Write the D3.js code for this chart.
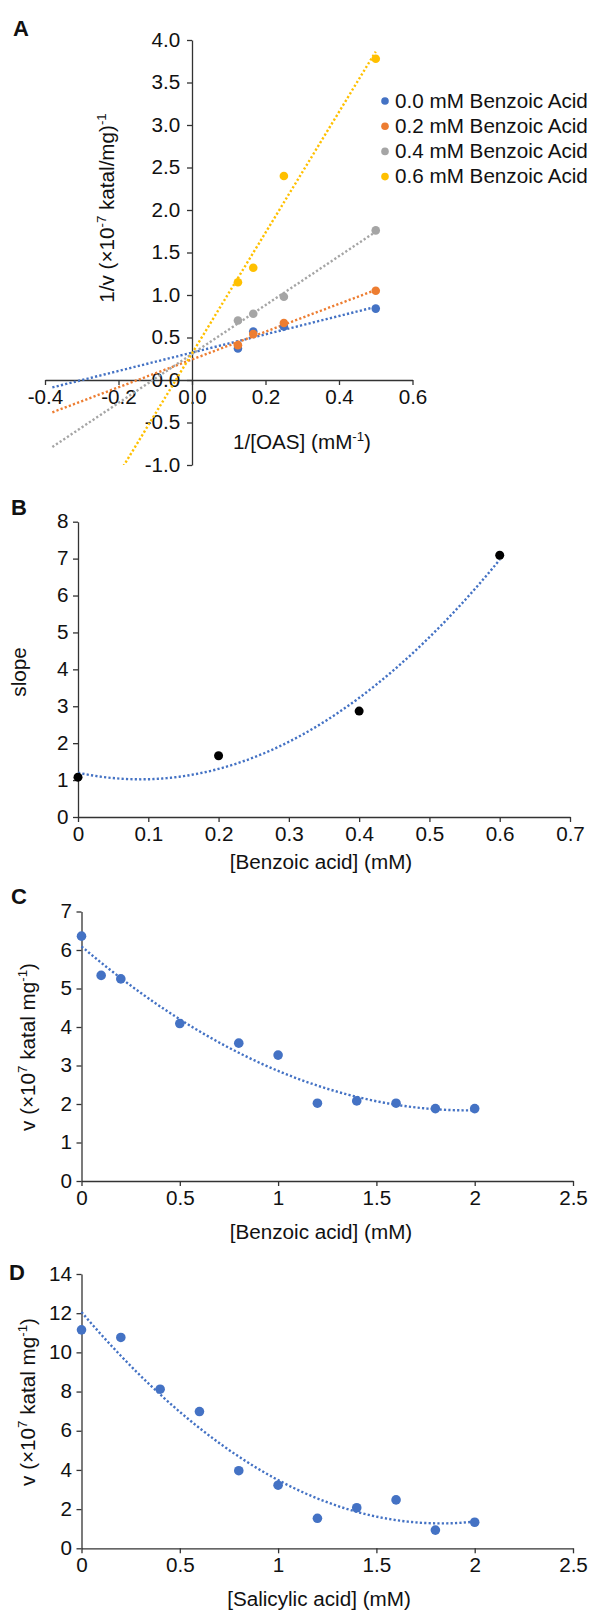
<!DOCTYPE html>
<html>
<head>
<meta charset="utf-8">
<script src="https://cdn.jsdelivr.net/npm/d3@7"></script>
<style>
  body { margin: 0; background: #fff; }
  svg text { font-family: "Liberation Sans", Arial, sans-serif; fill: #111; }
  .tick text { font-size: 19.5px; }
  .axis path, .axis line { stroke: #333; stroke-width: 1.3; }
  .lbl { font-size: 19.5px; }
  .panel { font-size: 22px; font-weight: bold; }
</style>
</head>
<body>
<div id="chart"></div>
<script>
// Panel A - Lineweaver-Burk
const concA = ['0.0', '0.2', '0.4', '0.6'];
const oasInv = [0.125, 0.1667, 0.25, 0.5];
const invV00 = [0.37, 0.57, 0.63, 0.84];
const invV02 = [0.41, 0.54, 0.67, 1.05];
const invV04 = [0.70, 0.78, 0.98, 1.76];
const invV06 = [1.15, 1.32, 2.40, 3.78];
const colorsA = ['#4472C4', '#ED7D31', '#A5A5A5', '#FFC000'];
const xTicksA = [-0.4, -0.2, 0, 0.2, 0.4, 0.6];
const yTicksA = [-1, -0.5, 0, 0.5, 1, 1.5, 2, 2.5, 3, 3.5, 4];

// Panel B - slope replot
const benzoicB = [0, 0.2, 0.4, 0.6];
const slopeB = [1.08, 1.66, 2.87, 7.09];
const xTicksB = [0, 0.1, 0.2, 0.3, 0.4, 0.5, 0.6, 0.7];
const yTicksB = [0, 1, 2, 3, 4, 5, 6, 7, 8];

// Panel C - benzoic acid
const benzoicC = [0, 0.1, 0.2, 0.5, 0.8, 1.0, 1.2, 1.4, 1.6, 1.8, 2.0];
const vC = [6.36, 5.34, 5.25, 4.09, 3.58, 3.27, 2.02, 2.08, 2.02, 1.88, 1.88];
const xTicksC = [0, 0.5, 1, 1.5, 2, 2.5];
const yTicksC = [0, 1, 2, 3, 4, 5, 6, 7];

// Panel D - salicylic acid
const salicylicD = [0, 0.2, 0.4, 0.6, 0.8, 1.0, 1.2, 1.4, 1.6, 1.8, 2.0];
const vD = [11.15, 10.76, 8.12, 6.98, 3.96, 3.22, 1.53, 2.07, 2.47, 0.93, 1.33];
const xTicksD = [0, 0.5, 1, 1.5, 2, 2.5];
const yTicksD = [0, 2, 4, 6, 8, 10, 12, 14];

const blue = '#4472C4';
const stretch = 'scale(1.06,1)';   // source figure text is a bit wider than Arial

let svg = d3.select('#chart').append('svg')
  .attr('width', 593)
  .attr('height', 1610);

svg.append('rect').attr('width', 593).attr('height', 1610).attr('fill', '#fff');

// least squares fits for the trendlines
function linFit(xs, ys) {
  let mx = d3.mean(xs), my = d3.mean(ys);
  let sxy = d3.sum(xs, (x, i) => (x - mx) * (ys[i] - my));
  let sxx = d3.sum(xs, x => (x - mx) * (x - mx));
  let b = sxy / sxx;
  return x => my + b * (x - mx);
}

function quadFit(xs, ys) {
  // normal equations, 3x3
  let s = [0, 0, 0, 0, 0], t = [0, 0, 0];
  xs.forEach((x, i) => {
    for (let k = 0; k < 5; k++) s[k] += Math.pow(x, k);
    for (let k = 0; k < 3; k++) t[k] += ys[i] * Math.pow(x, k);
  });
  let M = [[s[0], s[1], s[2], t[0]], [s[1], s[2], s[3], t[1]], [s[2], s[3], s[4], t[2]]];
  for (let c = 0; c < 3; c++) {
    for (let r = c + 1; r < 3; r++) {
      let f = M[r][c] / M[c][c];
      for (let k = c; k < 4; k++) M[r][k] -= f * M[c][k];
    }
  }
  let a = [0, 0, 0];
  for (let r = 2; r >= 0; r--) {
    let v = M[r][3];
    for (let k = r + 1; k < 3; k++) v -= M[r][k] * a[k];
    a[r] = v / M[r][r];
  }
  return x => a[0] + a[1] * x + a[2] * x * x;
}

function trend(g, f, x, y, x0, x1, color) {
  let pts = d3.range(0, 101).map(i => x0 + (x1 - x0) * i / 100);
  g.append('path')
    .attr('d', d3.line().x(d => x(d)).y(d => y(f(d)))(pts))
    .attr('fill', 'none')
    .attr('stroke', color)
    .attr('stroke-width', 2.4)
    .attr('stroke-dasharray', '2.2,2.2');
}

function axis(axisFn, tx, ty) {
  let g = svg.append('g')
    .attr('class', 'axis')
    .attr('transform', `translate(${tx},${ty})`)
    .call(axisFn);
  g.selectAll('.tick text').attr('transform', stretch);
  return g;
}

// text with superscripts, parts = [[text, sup], ...]
function richText(g, parts, x, y, rotate) {
  let t = g.append('text')
    .attr('class', 'lbl')
    .attr('text-anchor', 'middle')
    .attr('transform', `translate(${x},${y})` + (rotate ? ' rotate(-90)' : '') + ' ' + stretch)
    .attr('dy', '0.35em');
  let up = false;
  parts.forEach(p => {
    let ts = t.append('tspan').text(p[0]);
    if (p[1]) {
      ts.style('font-size', '12.5px').attr('dy', -8);
      up = true;
    } else if (up) {
      ts.attr('dy', 8);
      up = false;
    }
  });
  return t;
}

function panelLabel(txt, x, y) {
  svg.append('text').attr('class', 'panel')
    .attr('transform', `translate(${x},${y})`)
    .text(txt);
}

//----- PANEL A
let xA = d3.scaleLinear().domain([-0.4, 0.6]).range([45, 412.5]);
let yA = d3.scaleLinear().domain([-1, 4]).range([465, 40]);

svg.append('clipPath').attr('id', 'clipA')
  .append('rect')
  .attr('x', xA(-0.4)).attr('y', yA(4))
  .attr('width', xA(0.6) - xA(-0.4)).attr('height', yA(-1) - yA(4));

axis(d3.axisBottom(xA).tickValues(xTicksA).tickSize(5).tickSizeOuter(0).tickPadding(5)
  .tickFormat(d => d.toFixed(1)), 0, yA(0));
axis(d3.axisLeft(yA).tickValues(yTicksA).tickSize(5).tickSizeOuter(0).tickPadding(6)
  .tickFormat(d => d.toFixed(1)), xA(0), 0);

let seriesA = [invV00, invV02, invV04, invV06];
let lineLayer = svg.append('g').attr('clip-path', 'url(#clipA)');
seriesA.forEach((ys, k) => {
  trend(lineLayer, linFit(oasInv, ys), xA, yA, -0.38, 0.5, colorsA[k]);
});
seriesA.forEach((ys, k) => {
  svg.append('g').selectAll('circle')
    .data(ys)
    .enter()
    .append('circle')
    .attr('cx', (d, i) => xA(oasInv[i]))
    .attr('cy', d => yA(d))
    .attr('r', 4.3)
    .attr('fill', colorsA[k]);
});

// legend
let legend = svg.append('g');
concA.forEach((c, k) => {
  let ly = 101 + k * 25.2;
  legend.append('circle').attr('cx', 385).attr('cy', ly).attr('r', 3.8).attr('fill', colorsA[k]);
  legend.append('text').attr('class', 'lbl')
    .attr('transform', `translate(395,${ly}) ${stretch}`)
    .attr('dy', '0.35em')
    .text(`${c} mM Benzoic Acid`);
});

richText(svg, [['1/v (×10'], ['-7', true], [' katal/mg)'], ['-1', true]], 107, 208, true);
richText(svg, [['1/[OAS] (mM'], ['-1', true], [')']], 302, 442, false);
panelLabel('A', 13, 36);

//----- PANEL B
let xB = d3.scaleLinear().domain([0, 0.7]).range([78, 570]);
let yB = d3.scaleLinear().domain([0, 8]).range([817, 521.7]);

axis(d3.axisBottom(xB).tickValues(xTicksB).tickSize(5).tickSizeOuter(0).tickPadding(5)
  .tickFormat(d => d === 0 ? '0' : d.toFixed(1)), 0, yB(0));
axis(d3.axisLeft(yB).tickValues(yTicksB).tickSize(5).tickSizeOuter(0).tickPadding(4)
  .tickFormat(d => String(d)), xB(0), 0);

trend(svg, quadFit(benzoicB, slopeB), xB, yB, 0, 0.6, blue);

svg.append('g').selectAll('circle')
  .data(slopeB)
  .enter()
  .append('circle')
  .attr('cx', (d, i) => xB(benzoicB[i]))
  .attr('cy', d => yB(d))
  .attr('r', 4.5)
  .attr('fill', '#000');

richText(svg, [['slope']], 19, 672, true);
richText(svg, [['[Benzoic acid] (mM)']], 321, 862, false);
panelLabel('B', 11, 515);

//----- PANEL C
let xC = d3.scaleLinear().domain([0, 2.5]).range([81.5, 573]);
let yC = d3.scaleLinear().domain([0, 7]).range([1181, 911.5]);

axis(d3.axisBottom(xC).tickValues(xTicksC).tickSize(5).tickSizeOuter(0).tickPadding(5)
  .tickFormat(d => String(d)), 0, yC(0));
axis(d3.axisLeft(yC).tickValues(yTicksC).tickSize(5).tickSizeOuter(0).tickPadding(4)
  .tickFormat(d => String(d)), xC(0), 0);

trend(svg, quadFit(benzoicC, vC), xC, yC, 0, 2.0, blue);

svg.append('g').selectAll('circle')
  .data(vC)
  .enter()
  .append('circle')
  .attr('cx', (d, i) => xC(benzoicC[i]))
  .attr('cy', d => yC(d))
  .attr('r', 4.8)
  .attr('fill', blue);

richText(svg, [['v (×10'], ['7', true], [' katal mg'], ['-1', true], [')']], 28, 1047, true);
richText(svg, [['[Benzoic acid] (mM)']], 321, 1232, false);
panelLabel('C', 11, 904);

//----- PANEL D
let xD = d3.scaleLinear().domain([0, 2.5]).range([81.5, 573]);
let yD = d3.scaleLinear().domain([0, 14]).range([1548.3, 1274]);

axis(d3.axisBottom(xD).tickValues(xTicksD).tickSize(5).tickSizeOuter(0).tickPadding(5)
  .tickFormat(d => String(d)), 0, yD(0));
axis(d3.axisLeft(yD).tickValues(yTicksD).tickSize(5).tickSizeOuter(0).tickPadding(4)
  .tickFormat(d => String(d)), xD(0), 0);

trend(svg, quadFit(salicylicD, vD), xD, yD, 0, 2.0, blue);

svg.append('g').selectAll('circle')
  .data(vD)
  .enter()
  .append('circle')
  .attr('cx', (d, i) => xD(salicylicD[i]))
  .attr('cy', d => yD(d))
  .attr('r', 4.8)
  .attr('fill', blue);

richText(svg, [['v (×10'], ['7', true], [' katal mg'], ['-1', true], [')']], 28, 1402, true);
richText(svg, [['[Salicylic acid] (mM)']], 319, 1599, false);
panelLabel('D', 9, 1280);
</script>
</body>
</html>
